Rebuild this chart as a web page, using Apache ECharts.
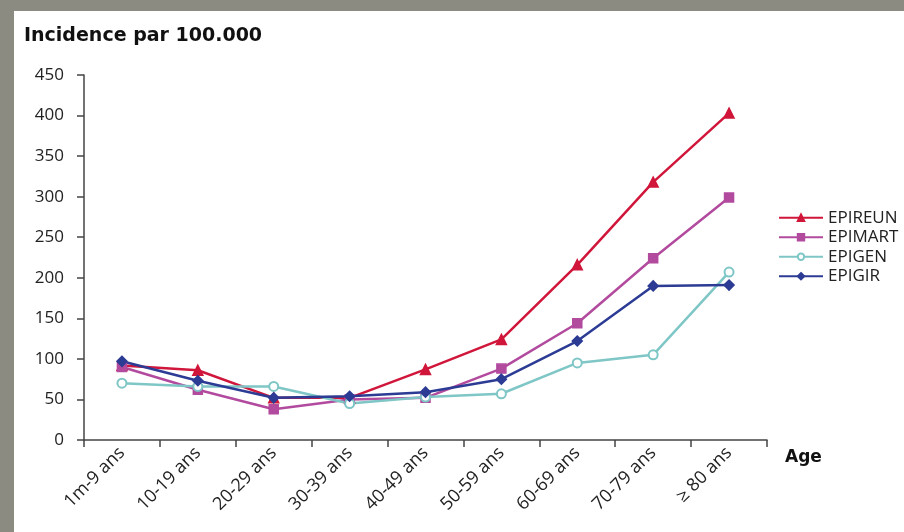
<!DOCTYPE html>
<html>
<head>
<meta charset="utf-8">
<script src="https://cdn.jsdelivr.net/npm/echarts@6/dist/echarts.min.js"></script>
<style>
  html, body { margin: 0; padding: 0; }
  body { width: 904px; height: 532px; background: #8b8b82; position: relative; overflow: hidden; }
  #chart { position: absolute; left: 14px; top: 11px; width: 890px; height: 521px; background: #ffffff; }
</style>
</head>
<body>
<div id="chart"></div>
<script>
// tranches d'age
var ageGroups = ['1m-9 ans', '10-19 ans', '20-29 ans', '30-39 ans', '40-49 ans', '50-59 ans', '60-69 ans', '70-79 ans', '\u2265 80 ans'];
var seriesNames = ['EPIREUN', 'EPIMART', 'EPIGEN', 'EPIGIR'];

// incidence par 100.000
var epireun = [92, 86, 52, 52, 87, 124, 216, 318, 403];
var epimart = [90, 62, 38, 50, 52, 88, 144, 224, 299];
var epigen  = [70, 66, 66, 45, 53, 57, 95, 105, 207];
var epigir  = [97, 73, 52, 54, 59, 75, 122, 190, 191];

var yTicks = [0, 50, 100, 150, 200, 250, 300, 350, 400, 450];

function Set_Incidence_echarts(){
    var chartDom = document.getElementById('chart');
    var myChart = echarts.init(chartDom, null, { renderer: 'canvas' });
    var font = 'Open Sans';
    var boldFont = 'DejaVu Sans';

    function lineSerie(name, data, color, symbol, size) {
        return {
            name: name,
            type: 'line',
            data: data,
            symbol: symbol,
            symbolSize: size,
            color: color,
            lineStyle: { color: color, width: 2.5 },
            itemStyle: { color: color, borderColor: color, borderWidth: 1.5 },
            animation: false
        };
    }

    var option = {
    textStyle: { fontFamily: font },
    title: [
        {
        text: 'Incidence par 100.000',
        left: 10,
        top: 16,
        padding: 0,
        textStyle: { fontFamily: boldFont, fontWeight: 'bold', fontSize: 19, color: '#111' }
        },
        {
        text: 'Age',
        left: 771,
        top: 438,
        padding: 0,
        textStyle: { fontFamily: boldFont, fontWeight: 'bold', fontSize: 17, color: '#111' }
        }
    ],
    legend: {
        data: seriesNames,
        orient: 'vertical',
        left: 764,
        top: 197,
        itemWidth: 44,
        itemHeight: 8,
        itemGap: 0,
        padding: 0,
        textStyle: { fontFamily: font, fontSize: 17, color: '#222', lineHeight: 19.5 }
    },
    grid: { left: 70, right: 137, top: 64, bottom: 92 },
    xAxis: {
        type: 'category',
        data: ageGroups,
        boundaryGap: true,
        axisLine: { lineStyle: { color: '#444', width: 1.5 } },
        axisTick: { show: true, length: 7, lineStyle: { color: '#444', width: 1.5 } },
        axisLabel: { rotate: 45, margin: 10, fontSize: 18, color: '#222', fontFamily: font, interval: 0 },
        splitLine: { show: false }
    },
    yAxis: {
        type: 'value',
        min: yTicks[0],
        max: yTicks[yTicks.length - 1],
        interval: 50,
        axisLine: { show: true, lineStyle: { color: '#444', width: 1.5 } },
        axisTick: { show: true, length: 7, lineStyle: { color: '#444', width: 1.5 } },
        axisLabel: { margin: 20, fontSize: 17, color: '#222', fontFamily: font },
        splitLine: { show: false }
    },
    series: [
        lineSerie('EPIREUN', epireun, '#d0163a', 'triangle', 10),
        lineSerie('EPIMART', epimart, '#b24a9e', 'rect', 9),
        lineSerie('EPIGEN', epigen, '#7fc6c6', 'emptyCircle', 9),
        lineSerie('EPIGIR', epigir, '#2c3b94', 'diamond', 10)
    ]
    };

    myChart.setOption(option);
    window.addEventListener('resize', myChart.resize);
}
Set_Incidence_echarts();
</script>
</body>
</html>
